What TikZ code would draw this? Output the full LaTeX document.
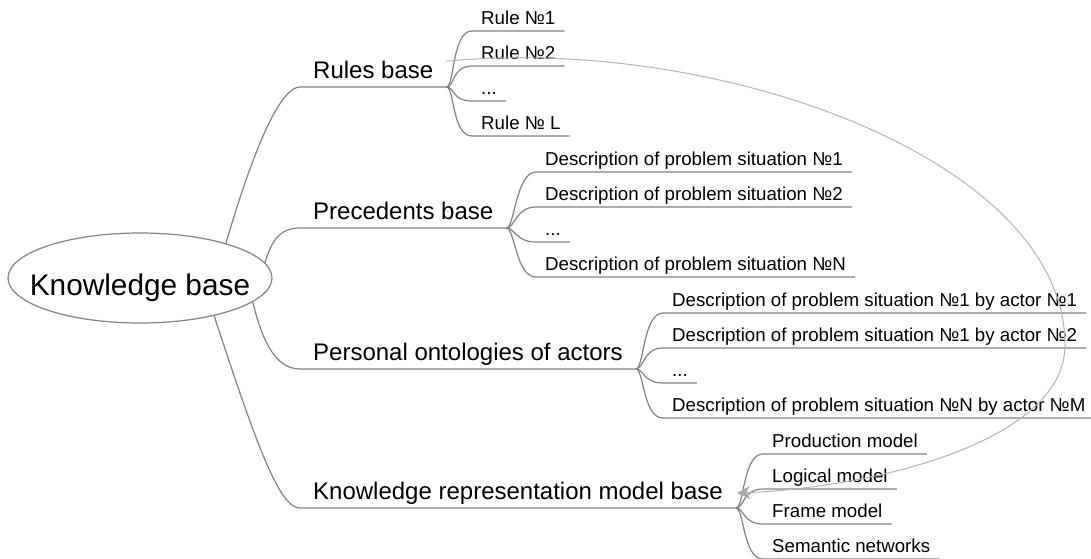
\documentclass[tikz,border=0pt]{standalone}
\usepackage{fontspec}
\setmainfont{Liberation Sans}
\usetikzlibrary{shapes.geometric,arrows.meta}
\definecolor{branch}{RGB}{130,130,130}
\definecolor{linkc}{RGB}{180,180,180}
\definecolor{linktip}{RGB}{170,170,170}
\begin{document}
\begin{tikzpicture}[x=1pt,y=-1pt,
  branchline/.style={draw=branch, line width=1.2pt},
  linkline/.style={draw=linkc, line width=1pt},
  maintopic/.style={anchor=south west, inner xsep=13pt, inner ysep=0pt, text depth=8pt, font=\fontsize{24}{28}\selectfont},
  subtopic/.style={anchor=south west, inner xsep=9pt, inner ysep=0pt, text depth=6.5pt, font=\fontsize{18.7}{22}\selectfont},
  rootshape/.style={ellipse, draw=branch, line width=1.2pt, minimum width=264pt, minimum height=90pt, inner sep=0pt},
  rootlabel/.style={anchor=base, inner sep=0pt, font=\fontsize{29.8}{34}\selectfont},
]
\fill[white] (0,0) rectangle (1091,558);
\useasboundingbox (0,0) rectangle (1091,558);

% root
\node[rootshape] (root) at (140,278) {};
\node[rootlabel] (rootText) at (140,295) {Knowledge base};

% main topics
\node[maintopic] (rules) at (300,87) {Rules base};
\node[maintopic] (prec) at (300,228) {Precedents base};
\node[maintopic] (pers) at (300,369) {Personal ontologies of actors};
\node[maintopic] (krmb) at (300,508) {Knowledge representation model base};

\draw[branchline] (root.22) .. controls (265,110) and (288,87) .. (rules.south west) -- (rules.south east);
\draw[branchline] (root.7) .. controls (272,240) and (280,228) .. (prec.south west) -- (prec.south east);
\draw[branchline] (root.-12) .. controls (262,340) and (275,369) .. (pers.south west) -- (pers.south east);
\draw[branchline] (root.-27) .. controls (258,450) and (280,508) .. (krmb.south west) -- (krmb.south east);

% rules children
\node[subtopic] (r1) at (472,31) {Rule №1};
\node[subtopic] (r2) at (472,66) {Rule №2};
\node[subtopic] (r3) at (472,101) {...};
\node[subtopic] (r4) at (472,136) {Rule № L};

% precedents children
\node[subtopic] (p1) at (536,172) {Description of problem situation №1};
\node[subtopic] (p2) at (536,207) {Description of problem situation №2};
\node[subtopic] (p3) at (536,242) {...};
\node[subtopic] (p4) at (536,277) {Description of problem situation №N};

% personal children
\node[subtopic] (o1) at (663,313) {Description of problem situation №1 by actor №1};
\node[subtopic] (o2) at (663,348) {Description of problem situation №1 by actor №2};
\node[subtopic] (o3) at (663,383) {...};
\node[subtopic] (o4) at (663,418) {Description of problem situation №N by actor №M};

% model children
\node[subtopic] (m1) at (763,454) {Production model};
\node[subtopic] (m2) at (763,489) {Logical model};
\node[subtopic] (m3) at (763,524) {Frame model};
\node[subtopic] (m4) at (763,559) {Semantic networks};

\foreach \p/\c in {rules/r1,rules/r2,rules/r3,rules/r4,
                   prec/p1,prec/p2,prec/p3,prec/p4,
                   pers/o1,pers/o2,pers/o3,pers/o4,
                   krmb/m1,krmb/m2,krmb/m3,krmb/m4}{
  \draw[branchline] (\p.south east) .. controls +(8,0) and +(-20,0) .. (\c.south west) -- (\c.south east);
}

% cross link
\draw[linkline, -{Stealth[length=13pt, width=13pt, inset=4pt, color=linktip, fill=linktip]}]
  (rules.north east) .. controls (720,35) and (1065,160) .. (1065,345)
  .. controls (1065,440) and (880,487) .. ([shift={(1,-2)}]krmb.east);
\end{tikzpicture}
\end{document}
